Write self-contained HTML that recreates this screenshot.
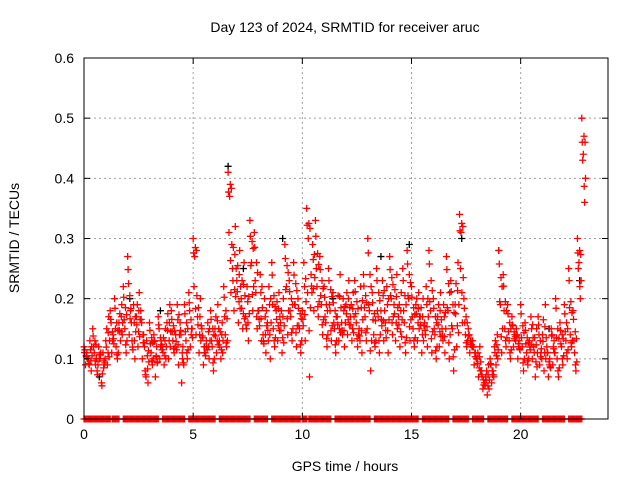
<!DOCTYPE html>
<html><head><meta charset="utf-8"><style>
body{margin:0;background:#fff}
svg{display:block;font-family:"Liberation Sans",sans-serif}
</style></head><body>
<svg id="c" width="640" height="480">
<rect width="640" height="480" fill="#fff"/>
<text x="345" y="32" text-anchor="middle" font-size="14">Day 123 of 2024, SRMTID for receiver aruc</text>
<text x="345" y="471" text-anchor="middle" font-size="14">GPS time / hours</text>
<text transform="translate(19,238) rotate(-90)" text-anchor="middle" font-size="14">SRMTID / TECUs</text>
<g id="grid"></g>
<g id="marks"></g>
<g id="axes"></g>
</svg>
<script>
const times=[0,0.2,0.4,0.6,0.8,1.0,1.2,1.4,1.6,1.8,2.0,2.2,2.4,2.6,2.8,3.0,3.2,3.4,3.6,3.8,4.0,4.2,4.4,4.6,4.8,5.0,5.2,5.4,5.6,5.8,6.0,6.2,6.4,6.6,6.8,7.0,7.2,7.4,7.6,7.8,8.0,8.2,8.4,8.6,8.8,9.0,9.2,9.4,9.6,9.8,10.0,10.2,10.4,10.6,10.8,11.0,11.2,11.4,11.6,11.8,12.0,12.2,12.4,12.6,12.8,13.0,13.2,13.4,13.6,13.8,14.0,14.2,14.4,14.6,14.8,15.0,15.2,15.4,15.6,15.8,16.0,16.2,16.4,16.6,16.8,17.0,17.2,17.4,17.6,17.8,18.0,18.2,18.4,18.6,18.8,19.0,19.2,19.4,19.6,19.8,20.0,20.2,20.4,20.6,20.8,21.0,21.2,21.4,21.6,21.8,22.0,22.2,22.4,22.6,22.8];
const seriesA=[12,10,15,8,6,13,18,20,16,22,27,13,17,18,8,16,14,17,12,16,18,14,16,19,21,30,17,15,13,18,15,13,22,41,25,23,20,17,33,31,18,14,16,26,18,16,29,23,26,20,18,35,24,33,27,22,25,21,17,16,19,17,23,15,24,30,21,25,18,16,27,19,17,25,28,22,19,17,16,28,20,17,15,27,23,19,34,20,15,13,10,8,7,10,12,28,24,19,17,15,19,16,13,12,17,14,12,15,20,16,19,25,18,30,50];
const seriesB=[9,13,11,12,11,9,11,12,13,15,14,19,12,10,13,11,7,10,9,10,13,19,6,13,12,27,11,9,16,12,11,10,14,37,18,16,15,22,26,21,24,20,22,15,13,11,22,17,19,15,26,30,29,22,19,16,18,15,13,20,14,13,16,22,17,18,14,17,23,22,20,13,12,16,20,15,13,11,22,18,14,12,19,18,15,12,31,14,11,9,7,5,4,6,9,19,15,13,12,10,12,11,17,7,9,8,7,9,10,12,13,14,11,26,44];
const seriesC=[11,8,9,10,9,17,14,10,19,11,18,10,21,14,6,9,12,13,15,19,11,9,12,10,15,14,20,12,10,8,19,16,12,21,32,28,26,13,18,15,13,11,10,12,21,20,14,13,12,11,13,7,18,17,14,12,13,11,24,12,23,21,12,11,13,8,12,11,13,11,14,24,21,11,13,12,21,20,12,11,10,21,11,10,8,26,16,12,13,11,12,6,9,8,14,11,12,10,14,13,8,9,10,15,11,19,10,13,7,9,10,12,8,20,36];
const blackT=[0.7,2.1,3.5,6.6,7.3,9.1,11.4,13.6,14.9,16.1,17.3,19.0,21.3,22.7];
const blackV=[7,20,18,42,25,30,20,27,29,17,30,28,15,23];
const zeroStarts=[0,1.3,1.8,3.6,4.8,6.2,7.8,8.6,10.0,10.3,11.5,13.3,15.5,16.9,17.8,18.5,19.6,21.0,22.2];
const zeroEnds=[1.2,1.6,3.4,4.6,6.0,7.6,8.4,9.9,10.2,11.3,13.1,15.3,16.7,17.6,18.3,19.4,20.8,22.0,22.8];
const xTicks=[0,5,10,15,20];
const yTicks=[0,0.1,0.2,0.3,0.4,0.5,0.6];
const X0=84,X1=608,Y0=419,Y1=58,XMAX=24,YMAX=0.6;
const sx=t=>X0+(X1-X0)*t/XMAX, sy=v=>Y0-(Y0-Y1)*v/YMAX;
const NS='http://www.w3.org/2000/svg';
function mk(tag,attrs,parent){const e=document.createElementNS(NS,tag);for(const k in attrs)e.setAttribute(k,attrs[k]);parent.appendChild(e);return e;}
const grid=document.getElementById('grid'),marks=document.getElementById('marks'),axes=document.getElementById('axes');
xTicks.forEach(t=>{if(t>0){const l=mk('line',{x1:sx(t),x2:sx(t),y1:Y0,y2:Y1,stroke:'#a0a0a0','stroke-dasharray':'2,3'},grid);

}
mk('line',{x1:sx(t),x2:sx(t),y1:Y0,y2:Y0-6,stroke:'#000'},axes);mk('line',{x1:sx(t),x2:sx(t),y1:Y1,y2:Y1+6,stroke:'#000'},axes);
const tx=mk('text',{x:sx(t),y:Y0+20,'text-anchor':'middle','font-size':'14'},axes);tx.textContent=t;

});
yTicks.forEach(v=>{if(v>0&&v<0.6){const l=mk('line',{x1:X0,x2:X1,y1:sy(v),y2:sy(v),stroke:'#a0a0a0','stroke-dasharray':'2,3'},grid);

}
mk('line',{x1:X0,x2:X0+6,y1:sy(v),y2:sy(v),stroke:'#000'},axes);mk('line',{x1:X1,x2:X1-6,y1:sy(v),y2:sy(v),stroke:'#000'},axes);
const tx=mk('text',{x:X0-10,y:sy(v)+5,'text-anchor':'end','font-size':'14'},axes);tx.textContent=v===0?'0':v.toFixed(1);

});
mk('rect',{x:X0,y:Y1,width:X1-X0,height:Y0-Y1,fill:'none',stroke:'#000'},axes);
function plus(t,v,col){const x=sx(t),y=sy(v);const p=mk('path',{d:`M${x-3.5},${y}H${x+3.5}M${x},${y-3.5}V${y+3.5}`,stroke:col,'stroke-width':'1.3',fill:'none'},marks);

}
blackT.forEach((t,i)=>plus(t,blackV[i]/100,'#000'));
times.forEach((t,i)=>{
const a=seriesA[i]/100,b=seriesB[i]/100,c=seriesC[i]/100;
plus(t,a,'#f00');plus(t+0.07,b,'#f00');plus(t+0.13,c,'#f00');
plus(t+0.04,(a+c)/2,'#f00');plus(t+0.1,(a+b)/2,'#f00');plus(t+0.17,(b+c)/2,'#f00');
plus(t+0.02,a*0.92,'#f00');plus(t+0.15,(a+2*b)/3,'#f00');plus(t+0.11,(2*c+b)/3,'#f00');});
zeroStarts.forEach((s,i)=>{for(let t=s;t<=zeroEnds[i]+1e-6;t+=0.05)plus(t,0,'#f00');});
</script>
</body></html>
